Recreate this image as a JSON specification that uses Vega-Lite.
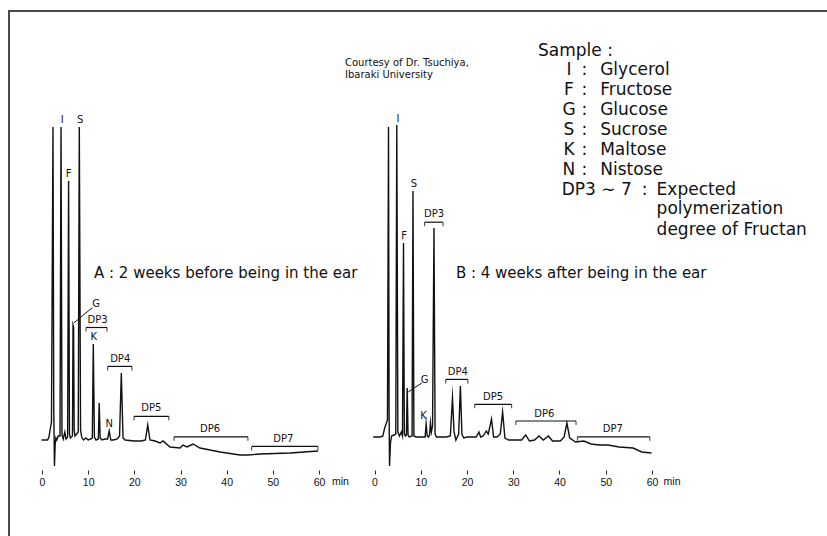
{
  "$schema": "https://vega.github.io/schema/vega-lite/v6.json",
  "width": 818,
  "height": 459,
  "autosize": {"type": "none"},
  "padding": {"left": 9, "top": 11, "right": 0, "bottom": 66},
  "background": "white",
  "config": {"view": {"stroke": null}, "font": "DejaVu Sans"},
  "datasets": {
    "traceA": [
      {"t": -0.1, "s": 0}, {"t": 1.2, "s": 0}, {"t": 1.5, "s": 3}, {"t": 1.75, "s": 10}, {"t": 2.05, "s": 18},
      {"t": 2.38, "s": 313}, {"t": 2.55, "s": 30}, {"t": 2.7, "s": -26}, {"t": 2.85, "s": -5}, {"t": 3.0, "s": 2},
      {"t": 3.2, "s": 0}, {"t": 3.5, "s": 4}, {"t": 3.9, "s": 4}, {"t": 4.12, "s": 313}, {"t": 4.33, "s": 5},
      {"t": 4.6, "s": 1}, {"t": 4.95, "s": 8}, {"t": 5.2, "s": 1}, {"t": 5.55, "s": 3}, {"t": 5.76, "s": 259},
      {"t": 5.95, "s": 6}, {"t": 6.15, "s": 2}, {"t": 6.6, "s": 4}, {"t": 6.72, "s": 115}, {"t": 6.84, "s": 113},
      {"t": 6.97, "s": 10}, {"t": 7.15, "s": 4}, {"t": 7.85, "s": 8}, {"t": 8.08, "s": 313}, {"t": 8.35, "s": 10},
      {"t": 8.6, "s": 3}, {"t": 9.0, "s": 0}, {"t": 9.5, "s": 2}, {"t": 10.0, "s": 0}, {"t": 10.5, "s": 1},
      {"t": 10.9, "s": 2}, {"t": 11.11, "s": 96}, {"t": 11.35, "s": 3}, {"t": 11.7, "s": 0}, {"t": 12.2, "s": 1},
      {"t": 12.39, "s": 37}, {"t": 12.6, "s": 2}, {"t": 13.0, "s": 0}, {"t": 13.6, "s": 1}, {"t": 14.2, "s": 1},
      {"t": 14.56, "s": 9}, {"t": 14.9, "s": 0}, {"t": 15.5, "s": 0}, {"t": 16.3, "s": 1}, {"t": 16.8, "s": 4},
      {"t": 17.18, "s": 67}, {"t": 17.55, "s": 2}, {"t": 18.0, "s": 0}, {"t": 20.0, "s": -1}, {"t": 21.5, "s": -1},
      {"t": 22.4, "s": 0}, {"t": 22.9, "s": 15}, {"t": 23.39, "s": 0}, {"t": 24.48, "s": -1}, {"t": 25.56, "s": -3},
      {"t": 26.21, "s": -1}, {"t": 27.73, "s": -7}, {"t": 29.89, "s": -8}, {"t": 30.54, "s": -5}, {"t": 31.41, "s": -7},
      {"t": 32.71, "s": -4}, {"t": 34.22, "s": -8}, {"t": 38.56, "s": -12}, {"t": 42.89, "s": -15}, {"t": 44.62, "s": -15},
      {"t": 47.22, "s": -14}, {"t": 53.72, "s": -13}, {"t": 59.78, "s": -11}
    ],
    "traceB": [
      {"t": -0.3, "s": 3}, {"t": 1.2, "s": 3}, {"t": 1.8, "s": 4}, {"t": 2.2, "s": 12}, {"t": 2.8, "s": 20},
      {"t": 3.03, "s": 313}, {"t": 3.15, "s": 30}, {"t": 3.25, "s": -26}, {"t": 3.45, "s": -3}, {"t": 3.7, "s": 4},
      {"t": 4.2, "s": 5}, {"t": 4.6, "s": 6}, {"t": 4.82, "s": 315}, {"t": 5.05, "s": 8}, {"t": 5.4, "s": 4},
      {"t": 5.8, "s": 8}, {"t": 6.05, "s": 4}, {"t": 6.27, "s": 197}, {"t": 6.45, "s": 6}, {"t": 6.7, "s": 4},
      {"t": 6.9, "s": 5}, {"t": 7.07, "s": 52}, {"t": 7.25, "s": 5}, {"t": 7.5, "s": 3}, {"t": 8.12, "s": 4},
      {"t": 8.32, "s": 249}, {"t": 8.52, "s": 4}, {"t": 9.0, "s": 3}, {"t": 10.0, "s": 3}, {"t": 10.95, "s": 3},
      {"t": 11.16, "s": 16}, {"t": 11.4, "s": 4}, {"t": 11.7, "s": 3}, {"t": 11.9, "s": 5}, {"t": 12.09, "s": 17},
      {"t": 12.3, "s": 8}, {"t": 12.55, "s": 14}, {"t": 12.86, "s": 212}, {"t": 13.1, "s": 6}, {"t": 13.4, "s": 3},
      {"t": 14.0, "s": 3}, {"t": 15.5, "s": 3}, {"t": 16.4, "s": 4}, {"t": 16.86, "s": 42}, {"t": 17.2, "s": 8},
      {"t": 17.6, "s": 0}, {"t": 18.2, "s": 6}, {"t": 18.57, "s": 54}, {"t": 18.9, "s": 6}, {"t": 19.3, "s": 2},
      {"t": 20.0, "s": 3}, {"t": 22.0, "s": 3}, {"t": 22.57, "s": 8}, {"t": 22.95, "s": 3}, {"t": 23.5, "s": 4},
      {"t": 24.17, "s": 9}, {"t": 24.6, "s": 6}, {"t": 25.3, "s": 21}, {"t": 25.75, "s": 3}, {"t": 26.5, "s": 3},
      {"t": 27.2, "s": 6}, {"t": 27.7, "s": 28}, {"t": 28.2, "s": 2}, {"t": 29.0, "s": 0}, {"t": 30.5, "s": 0},
      {"t": 31.8, "s": 0}, {"t": 32.7, "s": 5}, {"t": 33.5, "s": -1}, {"t": 34.6, "s": 0}, {"t": 35.57, "s": 4},
      {"t": 36.5, "s": 0}, {"t": 37.6, "s": 4}, {"t": 38.5, "s": -1}, {"t": 40.2, "s": -1}, {"t": 41.0, "s": 3},
      {"t": 41.6, "s": 17}, {"t": 42.2, "s": 2}, {"t": 43.5, "s": -2}, {"t": 45.3, "s": -1}, {"t": 46.8, "s": -4},
      {"t": 48.6, "s": -5}, {"t": 50.5, "s": -5}, {"t": 52.9, "s": -7}, {"t": 55.9, "s": -8}, {"t": 57.8, "s": -12},
      {"t": 59.9, "s": -13}
    ],
    "labelsA": [
      {"t": 4.38, "s": 319.7, "label": "I"}, {"t": 8.27, "s": 319.7, "label": "S"}, {"t": 5.76, "s": 266.4, "label": "F"},
      {"t": 11.7, "s": 136.5, "label": "G"}, {"t": 12.04, "s": 119.7, "label": "DP3"}, {"t": 11.24, "s": 103.3, "label": "K"},
      {"t": 14.56, "s": 16.2, "label": "N"}, {"t": 16.94, "s": 81.1, "label": "DP4"}, {"t": 23.7, "s": 31.6, "label": "DP5"},
      {"t": 36.39, "s": 11, "label": "DP6"}, {"t": 52.25, "s": 0.8, "label": "DP7"}
    ],
    "labelsB": [
      {"t": 5.08, "s": 321, "label": "I"}, {"t": 8.54, "s": 256.1, "label": "S"}, {"t": 6.38, "s": 204.2, "label": "F"},
      {"t": 10.83, "s": 60, "label": "G"}, {"t": 10.59, "s": 23.7, "label": "K"}, {"t": 12.86, "s": 226.4, "label": "DP3"},
      {"t": 18.01, "s": 68.5, "label": "DP4"}, {"t": 25.62, "s": 43.5, "label": "DP5"}, {"t": 36.71, "s": 26.4, "label": "DP6"},
      {"t": 51.52, "s": 11, "label": "DP7"}
    ],
    "bracketsA": [
      {"label": "DP3", "t1": 9.53, "t2": 14.08, "s": 112.5},
      {"label": "DP4", "t1": 14.21, "t2": 19.47, "s": 73.6},
      {"label": "DP5", "t1": 19.93, "t2": 27.47, "s": 23.7},
      {"label": "DP6", "t1": 28.59, "t2": 44.6, "s": 3.2},
      {"label": "DP7", "t1": 45.4, "t2": 59.78, "s": -6.4}
    ],
    "bracketsB": [
      {"label": "DP3", "t1": 10.83, "t2": 14.81, "s": 217.8},
      {"label": "DP4", "t1": 15.39, "t2": 20.17, "s": 60.6},
      {"label": "DP5", "t1": 21.66, "t2": 29.64, "s": 35.7},
      {"label": "DP6", "t1": 30.55, "t2": 43.57, "s": 19},
      {"label": "DP7", "t1": 43.89, "t2": 59.52, "s": 3.2}
    ],
    "leaderA": [{"t": 6.89, "s": 117, "t2": 10.9, "s2": 132.4}],
    "leaderB": [{"t": 7.3, "s": 48, "t2": 10.2, "s2": 57}],
    "captionA": [{"t": 11.26, "s": 167, "label": "A : 2 weeks before being in the ear"}],
    "captionB": [{"t": 17.6, "s": 167, "label": "B : 4 weeks after being in the ear"}],
    "legendLeft": [
      {"t": 35.35, "s": 389.4, "label": "Sample :"},
      {"t": 48.8, "s": 370, "label": "Glycerol"},
      {"t": 48.8, "s": 350.1, "label": "Fructose"},
      {"t": 48.8, "s": 330, "label": "Glucose"},
      {"t": 48.8, "s": 310, "label": "Sucrose"},
      {"t": 48.8, "s": 290.3, "label": "Maltose"},
      {"t": 48.8, "s": 270.1, "label": "Nistose"},
      {"t": 40.48, "s": 250.3, "label": "DP3 ∼ 7"},
      {"t": 61.0, "s": 250.3, "label": "Expected"},
      {"t": 61.0, "s": 230.8, "label": "polymerization"},
      {"t": 61.0, "s": 210.3, "label": "degree of Fructan"}
    ],
    "legendCenter": [
      {"t": 42.05, "s": 370, "label": "I"}, {"t": 42.05, "s": 350.1, "label": "F"}, {"t": 42.05, "s": 330, "label": "G"},
      {"t": 42.05, "s": 310, "label": "S"}, {"t": 42.05, "s": 290.3, "label": "K"}, {"t": 42.05, "s": 270.1, "label": "N"},
      {"t": 45.38, "s": 370, "label": ":"}, {"t": 45.38, "s": 350.1, "label": ":"}, {"t": 45.38, "s": 330, "label": ":"},
      {"t": 45.38, "s": 310, "label": ":"}, {"t": 45.38, "s": 290.3, "label": ":"}, {"t": 45.38, "s": 270.1, "label": ":"},
      {"t": 58.38, "s": 250.3, "label": ":"}
    ],
    "courtesy": [
      {"t": -6.38, "s": 377.5, "label": "Courtesy of Dr. Tsuchiya,"},
      {"t": -6.38, "s": 364.8, "label": "Ibaraki University"}
    ]
  },
  "layer": [
    {
      "data": {"values": [{}]},
      "mark": {"type": "rule", "color": "#4a4a4a", "strokeWidth": 2},
      "encoding": {
        "x": {"datum": -7.148, "type": "quantitative", "scale": {"domain": [-7.148, 170.03], "nice": false, "zero": false}, "axis": null},
        "x2": {"datum": 170.03},
        "y": {"datum": 429, "type": "quantitative", "scale": {"domain": [-30, 429], "nice": false, "zero": false}, "axis": null}
      }
    },
    {
      "data": {"values": [{}]},
      "mark": {"type": "rule", "color": "#4a4a4a", "strokeWidth": 2},
      "encoding": {
        "x": {"datum": -7.148, "type": "quantitative", "scale": {"domain": [-7.148, 170.03], "nice": false, "zero": false}, "axis": null},
        "y": {"datum": 430, "type": "quantitative", "scale": {"domain": [-30, 429], "nice": false, "zero": false}, "axis": null},
        "y2": {"datum": -100}
      }
    },
    {
      "data": {"name": "traceA"},
      "mark": {"type": "line", "color": "#111", "strokeWidth": 1.4, "strokeJoin": "miter", "strokeMiterLimit": 20},
      "encoding": {
        "x": {"field": "t", "type": "quantitative", "scale": {"domain": [-7.148, 170.03], "nice": false, "zero": false},
          "axis": {"orient": "bottom", "values": [0, 10, 20, 30, 40, 50, 60], "domain": false, "grid": false, "ticks": true, "tickSize": 4, "tickColor": "#222", "tickWidth": 1, "labelFont": "Liberation Sans", "labelFontSize": 10.5, "labelColor": "#111", "labelPadding": 3, "title": null, "labelFlush": false}},
        "y": {"field": "s", "type": "quantitative", "scale": {"domain": [-30, 429], "nice": false, "zero": false}, "axis": null}
      }
    },
    {
      "data": {"name": "labelsA"},
      "mark": {"type": "text", "font": "DejaVu Sans", "fontSize": 10, "align": "center", "baseline": "middle", "color": "#111"},
      "encoding": {
        "x": {"field": "t", "type": "quantitative", "scale": {"domain": [-7.148, 170.03], "nice": false, "zero": false}, "axis": null},
        "y": {"field": "s", "type": "quantitative", "scale": {"domain": [-30, 429], "nice": false, "zero": false}, "axis": null},
        "text": {"field": "label"}
      }
    },
    {
      "data": {"name": "bracketsA"},
      "mark": {"type": "rule", "color": "#111", "strokeWidth": 1.2},
      "encoding": {
        "x": {"field": "t1", "type": "quantitative", "scale": {"domain": [-7.148, 170.03], "nice": false, "zero": false}, "axis": null},
        "x2": {"field": "t2"},
        "y": {"field": "s", "type": "quantitative", "scale": {"domain": [-30, 429], "nice": false, "zero": false}, "axis": null}
      }
    },
    {
      "data": {"name": "bracketsA"},
      "transform": [{"fold": ["t1", "t2"], "as": ["end", "t"]}],
      "mark": {"type": "tick", "orient": "vertical", "color": "#111", "size": 4, "thickness": 1.2, "yOffset": 2},
      "encoding": {
        "x": {"field": "t", "type": "quantitative", "scale": {"domain": [-7.148, 170.03], "nice": false, "zero": false}, "axis": null},
        "y": {"field": "s", "type": "quantitative", "scale": {"domain": [-30, 429], "nice": false, "zero": false}, "axis": null}
      }
    },
    {
      "data": {"name": "leaderA"},
      "mark": {"type": "rule", "color": "#111", "strokeWidth": 1},
      "encoding": {
        "x": {"field": "t", "type": "quantitative", "scale": {"domain": [-7.148, 170.03], "nice": false, "zero": false}, "axis": null},
        "x2": {"field": "t2"},
        "y": {"field": "s", "type": "quantitative", "scale": {"domain": [-30, 429], "nice": false, "zero": false}, "axis": null},
        "y2": {"field": "s2"}
      }
    },
    {
      "data": {"name": "captionA"},
      "mark": {"type": "text", "font": "DejaVu Sans", "fontSize": 15, "align": "left", "baseline": "middle", "color": "#111"},
      "encoding": {
        "x": {"field": "t", "type": "quantitative", "scale": {"domain": [-7.148, 170.03], "nice": false, "zero": false}, "axis": null},
        "y": {"field": "s", "type": "quantitative", "scale": {"domain": [-30, 429], "nice": false, "zero": false}, "axis": null},
        "text": {"field": "label"}
      }
    },
    {
      "data": {"values": [{}]},
      "mark": {"type": "text", "text": "min", "font": "Liberation Sans", "fontSize": 10.5, "align": "left", "baseline": "middle", "color": "#111"},
      "encoding": {
        "x": {"datum": 62.8, "type": "quantitative", "scale": {"domain": [-7.148, 170.03], "nice": false, "zero": false}, "axis": null},
        "y": {"datum": -42, "type": "quantitative", "scale": {"domain": [-30, 429], "nice": false, "zero": false}, "axis": null}
      }
    },
    {
      "data": {"name": "traceB"},
      "mark": {"type": "line", "color": "#111", "strokeWidth": 1.4, "strokeJoin": "miter", "strokeMiterLimit": 20},
      "encoding": {
        "x": {"field": "t", "type": "quantitative", "scale": {"domain": [-79.03, 97.84], "nice": false, "zero": false},
          "axis": {"orient": "bottom", "values": [0, 10, 20, 30, 40, 50, 60], "domain": false, "grid": false, "ticks": true, "tickSize": 4, "tickColor": "#222", "tickWidth": 1, "labelFont": "Liberation Sans", "labelFontSize": 10.5, "labelColor": "#111", "labelPadding": 3, "title": null, "labelFlush": false}},
        "y": {"field": "s", "type": "quantitative", "scale": {"domain": [-30, 429], "nice": false, "zero": false}, "axis": null}
      }
    },
    {
      "data": {"name": "labelsB"},
      "mark": {"type": "text", "font": "DejaVu Sans", "fontSize": 10, "align": "center", "baseline": "middle", "color": "#111"},
      "encoding": {
        "x": {"field": "t", "type": "quantitative", "scale": {"domain": [-79.03, 97.84], "nice": false, "zero": false}, "axis": null},
        "y": {"field": "s", "type": "quantitative", "scale": {"domain": [-30, 429], "nice": false, "zero": false}, "axis": null},
        "text": {"field": "label"}
      }
    },
    {
      "data": {"name": "bracketsB"},
      "mark": {"type": "rule", "color": "#111", "strokeWidth": 1.2},
      "encoding": {
        "x": {"field": "t1", "type": "quantitative", "scale": {"domain": [-79.03, 97.84], "nice": false, "zero": false}, "axis": null},
        "x2": {"field": "t2"},
        "y": {"field": "s", "type": "quantitative", "scale": {"domain": [-30, 429], "nice": false, "zero": false}, "axis": null}
      }
    },
    {
      "data": {"name": "bracketsB"},
      "transform": [{"fold": ["t1", "t2"], "as": ["end", "t"]}],
      "mark": {"type": "tick", "orient": "vertical", "color": "#111", "size": 4, "thickness": 1.2, "yOffset": 2},
      "encoding": {
        "x": {"field": "t", "type": "quantitative", "scale": {"domain": [-79.03, 97.84], "nice": false, "zero": false}, "axis": null},
        "y": {"field": "s", "type": "quantitative", "scale": {"domain": [-30, 429], "nice": false, "zero": false}, "axis": null}
      }
    },
    {
      "data": {"name": "leaderB"},
      "mark": {"type": "rule", "color": "#111", "strokeWidth": 1},
      "encoding": {
        "x": {"field": "t", "type": "quantitative", "scale": {"domain": [-79.03, 97.84], "nice": false, "zero": false}, "axis": null},
        "x2": {"field": "t2"},
        "y": {"field": "s", "type": "quantitative", "scale": {"domain": [-30, 429], "nice": false, "zero": false}, "axis": null},
        "y2": {"field": "s2"}
      }
    },
    {
      "data": {"name": "captionB"},
      "mark": {"type": "text", "font": "DejaVu Sans", "fontSize": 15, "align": "left", "baseline": "middle", "color": "#111"},
      "encoding": {
        "x": {"field": "t", "type": "quantitative", "scale": {"domain": [-79.03, 97.84], "nice": false, "zero": false}, "axis": null},
        "y": {"field": "s", "type": "quantitative", "scale": {"domain": [-30, 429], "nice": false, "zero": false}, "axis": null},
        "text": {"field": "label"}
      }
    },
    {
      "data": {"values": [{}]},
      "mark": {"type": "text", "text": "min", "font": "Liberation Sans", "fontSize": 10.5, "align": "left", "baseline": "middle", "color": "#111"},
      "encoding": {
        "x": {"datum": 62.5, "type": "quantitative", "scale": {"domain": [-79.03, 97.84], "nice": false, "zero": false}, "axis": null},
        "y": {"datum": -42, "type": "quantitative", "scale": {"domain": [-30, 429], "nice": false, "zero": false}, "axis": null}
      }
    },
    {
      "data": {"name": "legendLeft"},
      "mark": {"type": "text", "font": "DejaVu Sans", "fontSize": 17, "align": "left", "baseline": "middle", "color": "#111"},
      "encoding": {
        "x": {"field": "t", "type": "quantitative", "scale": {"domain": [-79.03, 97.84], "nice": false, "zero": false}, "axis": null},
        "y": {"field": "s", "type": "quantitative", "scale": {"domain": [-30, 429], "nice": false, "zero": false}, "axis": null},
        "text": {"field": "label"}
      }
    },
    {
      "data": {"name": "legendCenter"},
      "mark": {"type": "text", "font": "DejaVu Sans", "fontSize": 17, "align": "center", "baseline": "middle", "color": "#111"},
      "encoding": {
        "x": {"field": "t", "type": "quantitative", "scale": {"domain": [-79.03, 97.84], "nice": false, "zero": false}, "axis": null},
        "y": {"field": "s", "type": "quantitative", "scale": {"domain": [-30, 429], "nice": false, "zero": false}, "axis": null},
        "text": {"field": "label"}
      }
    },
    {
      "data": {"name": "courtesy"},
      "mark": {"type": "text", "font": "DejaVu Sans", "fontSize": 10, "align": "left", "baseline": "middle", "color": "#111"},
      "encoding": {
        "x": {"field": "t", "type": "quantitative", "scale": {"domain": [-79.03, 97.84], "nice": false, "zero": false}, "axis": null},
        "y": {"field": "s", "type": "quantitative", "scale": {"domain": [-30, 429], "nice": false, "zero": false}, "axis": null},
        "text": {"field": "label"}
      }
    }
  ],
  "resolve": {"scale": {"x": "independent"}, "axis": {"x": "independent"}}
}
